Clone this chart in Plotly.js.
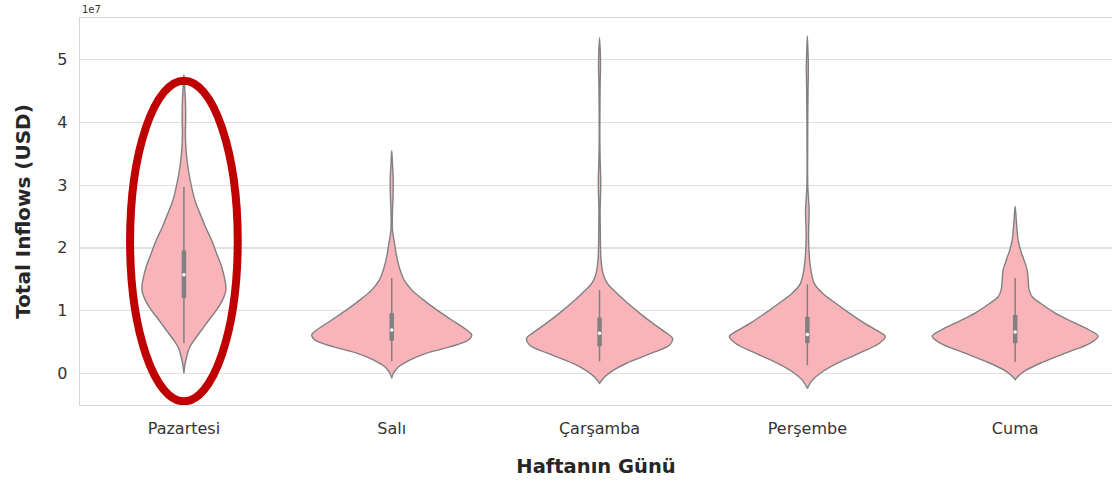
<!DOCTYPE html>
<html>
<head>
<meta charset="utf-8">
<script src="https://cdn.plot.ly/plotly-3.0.1.min.js"></script>
<style>html,body{margin:0;padding:0;background:#fff;}#chart{width:1112px;height:480px;}</style>
</head>
<body>
<div id="chart"></div>
<script>
// Categories
const days = ["Pazartesi", "Salı", "Çarşamba", "Perşembe", "Cuma"];

// Violin density profiles (levels in USD, relative density)
const monLevels = [4.76e7, 4.6e7, 4.35e7, 4.1e7, 3.8e7, 3.55e7, 3.35e7, 3.19e7, 2.97e7, 2.76e7, 2.55e7, 2.33e7, 2.12e7, 1.91e7, 1.70e7, 1.49e7, 1.33e7, 1.17e7, 1.01e7, 0.85e7, 0.69e7, 0.53e7, 0.40e7, 0.26e7, 0.13e7, 0.0e7];
const monDensity = [0, 0.6, 1.5, 1.8, 1.5, 2.2, 3.5, 5, 7.7, 11, 16, 21.7, 27.7, 32.7, 37.7, 41, 42, 38.7, 32.7, 25, 17.7, 10.3, 5.3, 2.7, 1, 0];

const tueLevels = [3.55e7, 3.35e7, 3.1e7, 2.81e7, 2.5e7, 2.28e7, 2.08e7, 1.86e7, 1.65e7, 1.49e7, 1.33e7, 1.17e7, 1.01e7, 0.85e7, 0.69e7, 0.61e7, 0.53e7, 0.42e7, 0.32e7, 0.21e7, 0.10e7, 0.0e7, -0.08e7];
const tueDensity = [0, 0.7, 1.5, 1.3, 0.6, 0.8, 2.7, 5, 8.3, 12.3, 20, 31.7, 45, 60, 75, 80, 76.7, 58, 35, 18, 6.7, 1.7, 0];

const wedLevels = [5.35e7, 5.1e7, 4.9e7, 4.6e7, 4.2e7, 3.8e7, 3.4e7, 3.1e7, 2.9e7, 2.6e7, 2.28e7, 1.86e7, 1.65e7, 1.54e7, 1.43e7, 1.28e7, 1.12e7, 0.96e7, 0.80e7, 0.64e7, 0.56e7, 0.45e7, 0.32e7, 0.16e7, 0.05e7, -0.06e7, -0.16e7];
const wedDensity = [0, 0.8, 1.0, 0.6, 0.4, 0.3, 0.6, 1.2, 1.1, 0.6, 0.8, 1.3, 2.7, 4.5, 8, 17, 28, 40, 53, 67, 73, 70, 52, 27, 14, 5, 0];

const thuLevels = [5.38e7, 5.1e7, 4.9e7, 4.5e7, 4.0e7, 3.5e7, 3.0e7, 2.75e7, 2.6e7, 2.4e7, 2.2e7, 1.86e7, 1.65e7, 1.43e7, 1.28e7, 1.12e7, 0.96e7, 0.80e7, 0.66e7, 0.59e7, 0.48e7, 0.32e7, 0.16e7, 0.0e7, -0.11e7, -0.24e7];
const thuDensity = [0, 0.7, 1.0, 0.7, 0.4, 0.3, 0.4, 1.3, 1.8, 1.5, 1.2, 2, 3.5, 7, 15, 28, 42, 57, 72, 78, 72, 52, 30, 13, 5, 0];

const friLevels = [2.66e7, 2.40e7, 2.12e7, 1.96e7, 1.80e7, 1.65e7, 1.49e7, 1.33e7, 1.22e7, 1.12e7, 0.96e7, 0.80e7, 0.69e7, 0.59e7, 0.48e7, 0.32e7, 0.16e7, 0.05e7, -0.03e7, -0.10e7];
const friDensity = [0, 1.3, 3, 5.5, 9, 12, 13, 14, 17, 25, 40, 60, 74, 83, 75, 50, 25, 11, 4, 0];

// Box statistics (USD)
const whiskerLow = [0.48e7, 0.19e7, 0.19e7, 0.13e7, 0.18e7];
const quartile1 = [1.20e7, 0.52e7, 0.43e7, 0.48e7, 0.48e7];
const medians = [1.57e7, 0.69e7, 0.64e7, 0.62e7, 0.66e7];
const quartile3 = [1.96e7, 0.96e7, 0.89e7, 0.90e7, 0.93e7];
const whiskerHigh = [2.97e7, 1.52e7, 1.33e7, 1.42e7, 1.52e7];

// Y tick labels (in units of 1e7)
const yTickVals = [0, 1e7, 2e7, 3e7, 4e7, 5e7];
const yTickText = ["0", "1", "2", "3", "4", "5"];

const levels = [monLevels, tueLevels, wedLevels, thuLevels, friLevels];
const dens = [monDensity, tueDensity, wedDensity, thuDensity, friDensity];

const WIDTH_SCALE = 1 / 207.8;
const FILL = "#f9b4b9";
const EDGE = "#808080";

const traces = [];
levels.forEach((lv, i) => {
  const d = dens[i];
  const xs = [], ys = [];
  for (let k = 0; k < lv.length; k++) { xs.push(i - d[k] * WIDTH_SCALE); ys.push(lv[k]); }
  for (let k = lv.length - 1; k >= 0; k--) { xs.push(i + d[k] * WIDTH_SCALE); ys.push(lv[k]); }
  traces.push({
    type: "scatter", mode: "lines", x: xs, y: ys, fill: "toself",
    fillcolor: FILL, line: {color: EDGE, width: 1.4, shape: "spline", smoothing: 1.0},
    hoverinfo: "skip", showlegend: false
  });
});
days.forEach((d, i) => {
  traces.push({type: "scatter", mode: "lines", x: [i, i], y: [whiskerLow[i], whiskerHigh[i]],
    line: {color: EDGE, width: 1.5}, showlegend: false, hoverinfo: "skip"});
  traces.push({type: "scatter", mode: "lines", x: [i, i], y: [quartile1[i], quartile3[i]],
    line: {color: EDGE, width: 4.5}, showlegend: false, hoverinfo: "skip"});
});
traces.push({type: "scatter", mode: "markers", x: days.map((d, i) => i), y: medians,
  marker: {color: "#ffffff", size: 3.5, line: {width: 0}}, showlegend: false, hoverinfo: "skip"});

const FONT = "DejaVu Sans, sans-serif";
const layout = {
  width: 1112, height: 480,
  margin: {l: 80, r: 0, t: 18, b: 75},
  paper_bgcolor: "#ffffff", plot_bgcolor: "#ffffff",
  showlegend: false,
  font: {family: FONT, color: "#262626"},
  xaxis: {
    range: [-0.5, 4.466], tickvals: [0, 1, 2, 3, 4], ticktext: days,
    showgrid: false, zeroline: false, showline: true, linecolor: "#d6d6d6", linewidth: 1.3,
    mirror: true, ticks: "outside", ticklen: 8, tickcolor: "rgba(0,0,0,0)",
    tickfont: {family: FONT, size: 16, color: "#333333"},
    title: {text: "Haftanın Günü", font: {family: FONT, size: 19.5, color: "#262626", weight: "bold"}, standoff: 22}
  },
  yaxis: {
    range: [-0.506e7, 5.666e7], tickvals: yTickVals, ticktext: yTickText,
    showgrid: true, gridcolor: "#e0e0e0", gridwidth: 1.3, zeroline: false,
    showline: true, linecolor: "#d6d6d6", linewidth: 1.3,
    ticks: "outside", ticklen: 8, tickcolor: "rgba(0,0,0,0)",
    tickfont: {family: FONT, size: 16, color: "#333333"},
    title: {text: "Total Inflows (USD)", font: {family: FONT, size: 20, color: "#262626", weight: "bold"}, standoff: 21}
  },
  shapes: [{
    type: "circle", xref: "x", yref: "y", x0: -0.259, x1: 0.259, y0: -0.447e7, y1: 4.665e7,
    line: {color: "#c00000", width: 8}, fillcolor: "rgba(0,0,0,0)", layer: "above"
  }],
  annotations: [{
    text: "1e7", xref: "paper", yref: "paper", x: 0, y: 1, xanchor: "left", yanchor: "bottom",
    showarrow: false, font: {family: FONT, size: 10, color: "#333333"}, yshift: 1
  }]
};

Plotly.newPlot("chart", traces, layout, {displayModeBar: false, staticPlot: true});
</script>
</body>
</html>
